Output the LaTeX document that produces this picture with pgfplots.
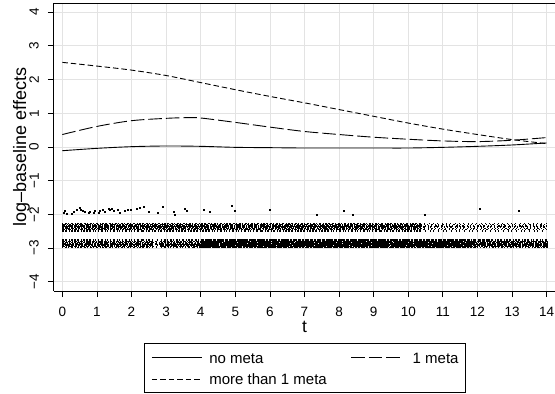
\documentclass[border=0pt]{standalone}
\usepackage{fontspec}
\setmainfont{Liberation Sans}
\usepackage{pgfplots}
\pgfplotsset{compat=1.18}
\pgfplotsset{
  rugbase/.style={forget plot, black, line width=1.4pt},
  m1/.style={dash pattern=on 1.4pt off 1.4pt on 2pt off 2pt on 1pt off 0.9pt on 1.6pt off 1.6pt},
  m2/.style={dash pattern=on 2.5pt off 0.8pt on 1.6pt off 0.7pt on 3.1pt off 1.2pt on 1.1pt off 0.9pt},
  m3/.style={dash pattern=on 1.9pt off 0.6pt on 2.9pt off 1.1pt on 1.3pt off 0.9pt on 2.4pt off 0.7pt},
  m4/.style={dash pattern=on 3.3pt off 1pt on 1.4pt off 0.6pt on 2.3pt off 1.3pt on 1.8pt off 0.8pt},
  m5/.style={dash pattern=on 1.5pt off 0.9pt on 2.8pt off 0.7pt on 2.1pt off 1.1pt on 2.8pt off 1pt},
  m6/.style={dash pattern=on 2.7pt off 1.1pt on 1.3pt off 0.8pt on 2.6pt off 0.6pt on 1.7pt off 1.2pt},
  m7/.style={dash pattern=on 1.1pt off 1.6pt on 1.9pt off 1.1pt on 1.4pt off 1.9pt on 2pt off 1.4pt},
  h1/.style={dash pattern=on 1.6pt off 1.3pt on 2.2pt off 1.9pt on 1.1pt off 0.8pt},
  h2/.style={dash pattern=on 3.2pt off 0.7pt on 1.9pt off 0.5pt on 4.1pt off 0.9pt},
  h3/.style={dash pattern=on 2.1pt off 0.6pt on 3.7pt off 0.8pt on 1.5pt off 0.5pt},
  h4/.style={dash pattern=on 4.4pt off 0.9pt on 2.3pt off 0.6pt on 1.8pt off 0.7pt},
  h5/.style={dash pattern=on 1.9pt off 0.5pt on 2.8pt off 0.9pt on 3.6pt off 0.6pt},
  h6/.style={dash pattern=on 2.6pt off 0.8pt on 4.2pt off 0.5pt on 1.4pt off 0.7pt},
  h7/.style={dash pattern=on 1.3pt off 1.6pt on 2.4pt off 1.1pt on 0.9pt off 1.8pt},
  v1/.style={dash pattern=on 3.5pt off 0.8pt on 2.5pt off 0.6pt on 4pt off 0.7pt},
  v2/.style={dash pattern=on 14pt off 0.5pt on 9pt off 0.6pt on 11pt off 0.4pt},
  v3/.style={dash pattern=on 8pt off 0.5pt on 13pt off 0.4pt on 6pt off 0.6pt},
  v4/.style={dash pattern=on 11pt off 0.6pt on 7pt off 0.4pt on 16pt off 0.5pt},
  v5/.style={dash pattern=on 6pt off 0.4pt on 12pt off 0.6pt on 9pt off 0.5pt},
  v6/.style={dash pattern=on 10pt off 0.5pt on 15pt off 0.6pt on 5pt off 0.4pt},
  v7/.style={dash pattern=on 2.8pt off 0.7pt on 4.3pt off 0.9pt on 1.9pt off 0.6pt},
  s1/.style={dash pattern=on 0.8pt off 3.5pt on 1pt off 4.5pt on 0.7pt off 2.5pt},
  s2/.style={dash pattern=on 1pt off 2pt on 1.5pt off 3pt on 0.8pt off 1.5pt on 1pt off 2.5pt},
  s3/.style={dash pattern=on 1.4pt off 2.6pt on 0.9pt off 1.7pt on 1.2pt off 3.1pt},
  s4/.style={dash pattern=on 0.9pt off 1.9pt on 1.6pt off 2.8pt on 1.1pt off 2.2pt},
  s5/.style={dash pattern=on 1.2pt off 3.2pt on 1.3pt off 1.6pt on 0.8pt off 2.4pt},
  s6/.style={dash pattern=on 1.5pt off 2.3pt on 1pt off 2.9pt on 1.1pt off 1.8pt},
  s7/.style={dash pattern=on 0.7pt off 2.9pt on 1.1pt off 4.1pt on 0.9pt off 3.3pt},
}
\begin{document}
\begin{tikzpicture}
\begin{axis}[
  scale only axis, width=501pt, height=288pt,
  xmin=-0.24, xmax=14.24, ymin=-4.27, ymax=4.27,
  axis lines*=left,
  axis line style={line width=1pt, black},
  clip=false,
  xtick={0,...,14}, ytick={-4,...,4},
  yticklabels={−4,−3,−2,−1,0,1,2,3,4},
  tick align=outside, major tick length=6pt,
  tick style={black, line width=0.8pt},
  grid=major, major grid style={line width=0.8pt, black!11},
  /pgf/number format/assume math mode=true,
  xticklabel style={font=\fontsize{13.5}{15}\selectfont, anchor=north, inner sep=0pt, yshift=-10pt},
  yticklabel style={font=\fontsize{13.5}{15}\selectfont, xshift=-9pt, rotate=90, anchor=south, inner sep=0pt},
  xlabel={t}, ylabel={log–baseline effects},
  xlabel style={at={(axis description cs:0.5,-0.1425)}, anchor=base, inner sep=0pt, font=\fontsize{17.5}{19}\selectfont},
  ylabel style={at={(axis description cs:-0.0649,0.5)}, rotate=0, anchor=center, inner sep=0pt, font=\fontsize{18}{20}\selectfont},
  legend columns=2,
  legend image code/.code={\draw[#1] (0pt,-0.75pt) -- (50pt,-0.75pt);},
  legend style={at={(axis description cs:0.5,0)}, anchor=north, yshift=-51.7pt, xshift=0.5pt,
    draw=black, line width=0.8pt, inner xsep=7pt, inner ysep=6.5pt,
    row sep=6.6pt, column sep=7pt,
    /tikz/every even column/.append style={column sep=24pt},
    cells={anchor=west},
    nodes={inner sep=0pt, text height=13.5pt, text depth=1.2pt},
    font=\fontsize{15}{18}\selectfont},
]
\draw[line width=1pt] (rel axis cs:0,1) -- (rel axis cs:1,1);

% --- band C (y about -2.87) ---
\addplot[rugbase, m1] coordinates {(0,-2.760) (2.6,-2.760)};
\addplot[rugbase, m2] coordinates {(0,-2.797) (2.6,-2.797)};
\addplot[rugbase, m3] coordinates {(0,-2.834) (2.6,-2.834)};
\addplot[rugbase, m4] coordinates {(0,-2.871) (2.6,-2.871)};
\addplot[rugbase, m5] coordinates {(0,-2.908) (2.6,-2.908)};
\addplot[rugbase, m6] coordinates {(0,-2.945) (2.6,-2.945)};
\addplot[rugbase, m7] coordinates {(0,-2.982) (2.6,-2.982)};
\addplot[rugbase, s1] coordinates {(2.6,-2.760) (2.85,-2.760)};
\addplot[rugbase, s2] coordinates {(2.6,-2.797) (2.85,-2.797)};
\addplot[rugbase, s3] coordinates {(2.6,-2.834) (2.85,-2.834)};
\addplot[rugbase, s4] coordinates {(2.6,-2.871) (2.85,-2.871)};
\addplot[rugbase, s5] coordinates {(2.6,-2.908) (2.85,-2.908)};
\addplot[rugbase, s6] coordinates {(2.6,-2.945) (2.85,-2.945)};
\addplot[rugbase, s7] coordinates {(2.6,-2.982) (2.85,-2.982)};
\addplot[rugbase, m7] coordinates {(2.85,-2.760) (4,-2.760)};
\addplot[rugbase, m5] coordinates {(2.85,-2.797) (4,-2.797)};
\addplot[rugbase, m2] coordinates {(2.85,-2.834) (4,-2.834)};
\addplot[rugbase, m6] coordinates {(2.85,-2.871) (4,-2.871)};
\addplot[rugbase, m4] coordinates {(2.85,-2.908) (4,-2.908)};
\addplot[rugbase, m3] coordinates {(2.85,-2.945) (4,-2.945)};
\addplot[rugbase, m1] coordinates {(2.85,-2.982) (4,-2.982)};
\addplot[rugbase, v1] coordinates {(4,-2.760) (11.8,-2.760)};
\addplot[rugbase, v2] coordinates {(4,-2.797) (11.8,-2.797)};
\addplot[rugbase, v3] coordinates {(4,-2.834) (11.8,-2.834)};
\addplot[rugbase, v4] coordinates {(4,-2.871) (11.8,-2.871)};
\addplot[rugbase, v5] coordinates {(4,-2.908) (11.8,-2.908)};
\addplot[rugbase, v6] coordinates {(4,-2.945) (11.8,-2.945)};
\addplot[rugbase, v7] coordinates {(4,-2.982) (11.8,-2.982)};
\addplot[rugbase, h1] coordinates {(11.8,-2.760) (14.05,-2.760)};
\addplot[rugbase, h2] coordinates {(11.8,-2.797) (14.05,-2.797)};
\addplot[rugbase, h3] coordinates {(11.8,-2.834) (14.05,-2.834)};
\addplot[rugbase, h4] coordinates {(11.8,-2.871) (14.05,-2.871)};
\addplot[rugbase, h5] coordinates {(11.8,-2.908) (14.05,-2.908)};
\addplot[rugbase, h6] coordinates {(11.8,-2.945) (14.05,-2.945)};
\addplot[rugbase, h7] coordinates {(11.8,-2.982) (14.05,-2.982)};

% --- band B (y about -2.38) ---
\addplot[rugbase, m7] coordinates {(0,-2.265) (10.35,-2.265)};
\addplot[rugbase, m4] coordinates {(0,-2.302) (10.35,-2.302)};
\addplot[rugbase, m6] coordinates {(0,-2.339) (10.35,-2.339)};
\addplot[rugbase, m3] coordinates {(0,-2.376) (10.35,-2.376)};
\addplot[rugbase, m5] coordinates {(0,-2.413) (10.35,-2.413)};
\addplot[rugbase, m2] coordinates {(0,-2.450) (10.35,-2.450)};
\addplot[rugbase, m1] coordinates {(0,-2.487) (10.35,-2.487)};
\addplot[rugbase, s7] coordinates {(10.35,-2.265) (14,-2.265)};
\addplot[rugbase, s3] coordinates {(10.35,-2.302) (14,-2.302)};
\addplot[rugbase, s5] coordinates {(10.35,-2.339) (14,-2.339)};
\addplot[rugbase, s2] coordinates {(10.35,-2.376) (14,-2.376)};
\addplot[rugbase, s6] coordinates {(10.35,-2.413) (14,-2.413)};
\addplot[rugbase, s4] coordinates {(10.35,-2.450) (14,-2.450)};
\addplot[rugbase, s1] coordinates {(10.35,-2.487) (14,-2.487)};

% --- band A (sparse, y about -1.9) ---
\addplot[forget plot, only marks, mark=square*, mark size=0.5pt, black] coordinates {
(0.03,-1.952) (0.06,-1.892) (0.13,-1.971) (0.27,-1.971) (0.32,-1.932) (0.41,-1.873)
(0.49,-1.813) (0.53,-1.853) (0.59,-1.892) (0.66,-1.922) (0.75,-1.952) (0.80,-1.932)
(0.90,-1.952) (0.94,-1.902) (1.04,-1.942) (1.09,-1.892) (1.18,-1.853) (1.23,-1.912)
(1.33,-1.823) (1.38,-1.873) (1.43,-1.843) (1.49,-1.892) (1.59,-1.863) (1.65,-1.942)
(1.81,-1.892) (1.88,-1.873) (1.97,-1.853) (2.15,-1.833) (2.24,-1.794) (2.34,-1.774)
(2.49,-1.932) (2.77,-1.952) (2.90,-1.764) (3.21,-1.922) (3.26,-2.001) (3.55,-1.833)
(3.59,-1.902) (4.09,-1.853) (4.27,-1.922) (4.91,-1.754) (4.99,-1.892) (6.00,-1.853)
(7.35,-2.000) (8.14,-1.900) (8.39,-2.000) (10.47,-2.000) (12.05,-1.830) (13.18,-1.890)
};

% --- curves ---
\addplot[black, line width=0.9pt, smooth] coordinates {
(0,-0.11) (1,-0.04) (2,0.01) (3,0.03) (4,0.02) (5,-0.01) (6,-0.02) (7,-0.03)
(8,-0.03) (9,-0.03) (10,-0.03) (11,-0.01) (12,0.02) (13,0.06) (14,0.12)};
\addlegendentry{no meta}
\addplot[black, line width=0.9pt, smooth, dash pattern=on 13.5pt off 4pt] coordinates {
(0,0.37) (1,0.61) (2,0.78) (3,0.85) (3.6,0.87) (4,0.86) (5,0.73) (6,0.59) (7,0.46)
(8,0.37) (9,0.29) (10,0.23) (11,0.18) (12,0.16) (13,0.20) (14,0.28)};
\addlegendentry{\hspace*{4pt}1 meta}
\addplot[black, line width=0.9pt, smooth, dash pattern=on 5.5pt off 3pt] coordinates {
(0,2.51) (1,2.40) (2,2.28) (3,2.12) (4,1.91) (5,1.70) (6,1.50) (7,1.31) (8,1.11)
(9,0.91) (10,0.71) (11,0.53) (12,0.37) (13,0.22) (14,0.10)};
\addlegendentry{more than 1 meta}
\end{axis}
\pgfresetboundingbox
\path[use as bounding box] (-54pt,-103pt) rectangle (501pt,291pt);
\end{tikzpicture}
\end{document}
